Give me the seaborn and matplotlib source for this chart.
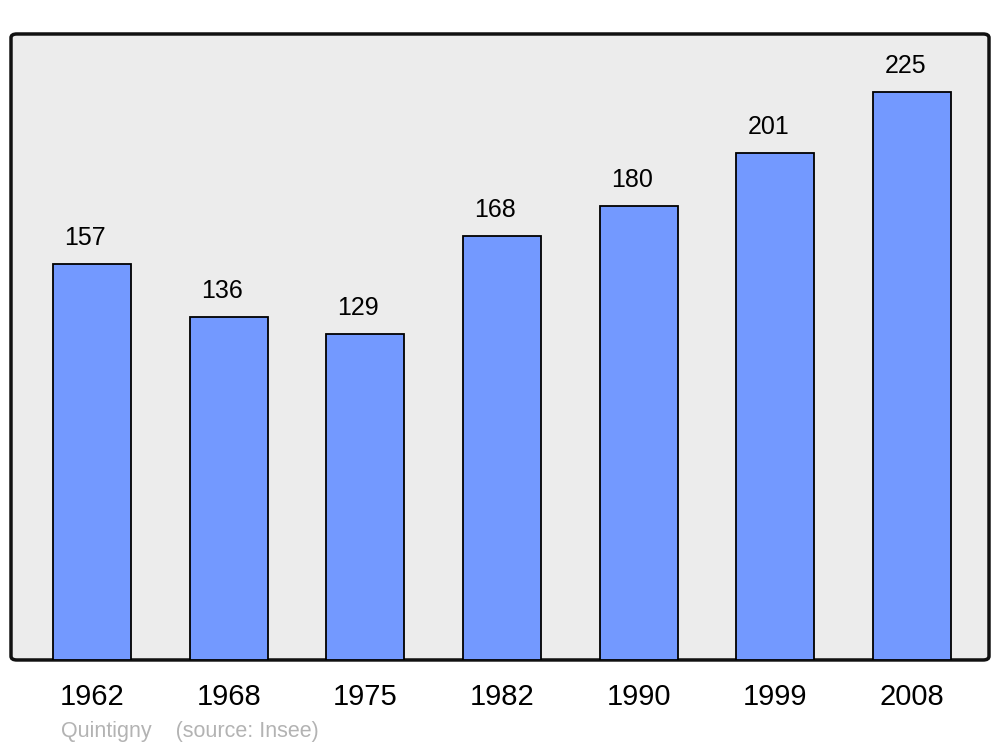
import matplotlib
matplotlib.use("Agg")
import matplotlib.pyplot as plt
from matplotlib.patches import FancyBboxPatch
import seaborn as sns
import pandas as pd

# Population of Quintigny
years = ['1962', '1968', '1975', '1982', '1990', '1999', '2008']
population = [157, 136, 129, 168, 180, 201, 225]

df = pd.DataFrame({'year': years, 'pop': population})

sns.set_style("white")
plt.rcParams['font.family'] = ['Liberation Sans', 'DejaVu Sans']
plt.rcParams['text.color'] = 'black'
plt.rcParams['xtick.color'] = 'black'

fig = plt.figure(figsize=(10, 7.47), dpi=100)
ax = fig.add_axes([0.011, 0.1165, 0.978, 0.838])
ax.set_facecolor('none')

# rounded frame with grey fill
frame = FancyBboxPatch((0, 0), 1, 1, boxstyle="round,pad=0,rounding_size=0.006",
                       transform=ax.transAxes, facecolor='#ececec', edgecolor='#111111',
                       linewidth=2.5, zorder=0, clip_on=False)
ax.add_patch(frame)

sns.barplot(data=df, x='year', y='pop', color='#7399ff', edgecolor='black',
            linewidth=1.3, width=0.57, saturation=1, ax=ax, zorder=2)

for i, v in enumerate(population):
    ax.annotate(str(v), (i, v), xytext=(-5, 10), textcoords='offset points',
                ha='center', va='bottom', fontsize=18, color='black')

ax.set_xlim(-0.593, 6.563)
ax.set_ylim(0, 248)
ax.set_yticks([])
ax.set_xlabel('')
ax.set_ylabel('')
ax.tick_params(axis='x', length=0, pad=16.5, labelsize=21, labelcolor='black')
for s in ax.spines.values():
    s.set_visible(False)

fig.text(0.061, 0.0134, 'Quintigny    (source: Insee)', fontsize=15.5, color='#b3b3b3',
         ha='left', va='baseline')

fig.savefig('out.png', dpi=100)
